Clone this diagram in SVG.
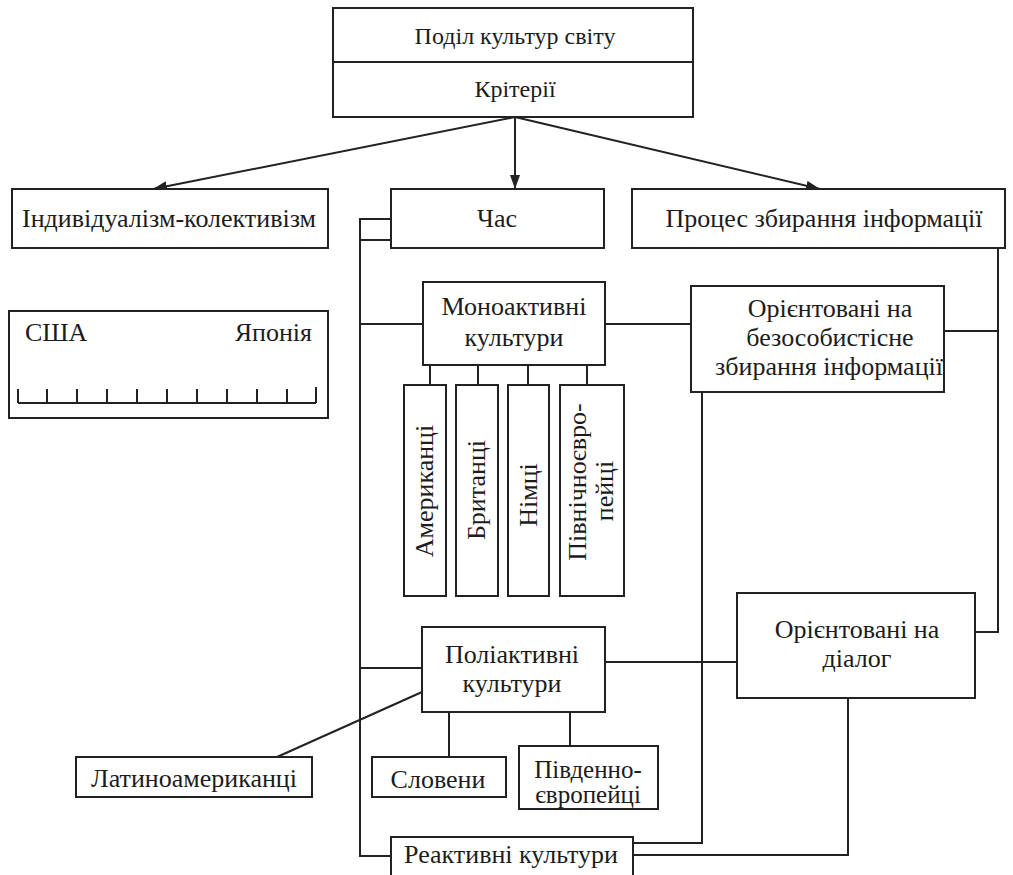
<svg xmlns="http://www.w3.org/2000/svg" width="1013" height="875" viewBox="0 0 1013 875">
  <style>
    .box { fill: #ffffff; stroke: #222222; stroke-width: 2; }
    .ln { fill: none; stroke: #222222; stroke-width: 2; }
    .arr { fill: none; stroke: #222222; stroke-width: 2; marker-end: url(#head); }
    text { font-family: "Liberation Serif", "Times New Roman", serif; font-size: 26px; fill: #1c1c1c; }
    .c { text-anchor: middle; }
    .sm { font-size: 24px; }
  </style>
  <defs>
    <marker id="head" viewBox="0 0 14 10" refX="14" refY="5" markerWidth="14" markerHeight="10" markerUnits="userSpaceOnUse" orient="auto">
      <path d="M0,0 L14,5 L0,10 Z" fill="#222222"/>
    </marker>
  </defs>
  <rect width="1013" height="875" fill="#ffffff"/>

  <!-- connectors -->
  <g id="connectors">
    <path class="arr" d="M515,117 L153,189"/>
    <path class="arr" d="M515,117 L515,189"/>
    <path class="arr" d="M515,117 L820,189"/>
    <!-- time bracket -->
    <path class="ln" d="M391,219 H360 V856 H391"/>
    <path class="ln" d="M391,240 H360"/>
    <path class="ln" d="M360,324 H423"/>
    <path class="ln" d="M360,668 H422"/>
    <!-- monoactive children -->
    <path class="ln" d="M430,365 V385 M478,365 V385 M528,365 V385 M587,365 V385"/>
    <path class="ln" d="M605,324 H691"/>
    <!-- information gathering -->
    <path class="ln" d="M998,248 V632 H975"/>
    <path class="ln" d="M944,331 H998"/>
    <path class="ln" d="M702,392 V843 H633"/>
    <path class="ln" d="M605,662 H737"/>
    <path class="ln" d="M848,698 V855 H633"/>
    <!-- polyactive children -->
    <path class="ln" d="M422,692 L277,757"/>
    <path class="ln" d="M449,712 V757"/>
    <path class="ln" d="M570,712 V746"/>
  </g>

  <g id="root">
    <rect class="box" x="333" y="8" width="360" height="109"/>
    <path class="ln" d="M333,62 H693"/>
    <text class="c sm" x="515" y="44">Поділ культур світу</text>
    <text class="c sm" x="515" y="97">Крітерії</text>
  </g>

  <g id="individualism">
    <rect class="box" x="12" y="189" width="316" height="59"/>
    <text class="c" x="169" y="227">Індивідуалізм-колективізм</text>
  </g>

  <g id="scale">
    <rect class="box" x="9" y="311" width="319" height="107"/>
    <text x="25" y="341">США</text>
    <text x="312" y="341" text-anchor="end">Японія</text>
    <path class="ln" d="M18,403 H316 M18,389 V403 M47,389 V403 M77,389 V403 M107,389 V403 M137,389 V403 M167,389 V403 M197,389 V403 M227,389 V403 M257,389 V403 M287,389 V403 M316,387 V403"/>
  </g>

  <g id="time">
    <rect class="box" x="391" y="189" width="213" height="59"/>
    <text class="c" x="497" y="227">Час</text>
  </g>

  <g id="info-process">
    <rect class="box" x="632" y="189" width="373" height="59"/>
    <text class="c" x="824" y="227">Процес збирання інформації</text>
  </g>

  <g id="monoactive">
    <rect class="box" x="423" y="282" width="182" height="83"/>
    <text class="c" x="514" y="315">Моноактивні</text>
    <text class="c" x="514" y="346">культури</text>
  </g>

  <g id="impersonal">
    <rect class="box" x="691" y="286" width="253" height="106"/>
    <text class="c" x="830" y="317">Орієнтовані на</text>
    <text class="c" x="830" y="346">безособистісне</text>
    <text class="c" x="829" y="375">збирання інформації</text>
  </g>

  <g id="americans">
    <rect class="box" x="404" y="385" width="42" height="211"/>
    <text class="c" x="433" y="491" transform="rotate(-90 433 491)">Американці</text>
  </g>

  <g id="british">
    <rect class="box" x="456" y="385" width="42" height="211"/>
    <text class="c" x="485" y="490" transform="rotate(-90 485 490)">Британці</text>
  </g>

  <g id="germans">
    <rect class="box" x="508" y="385" width="41" height="211"/>
    <text class="c" x="537" y="495" transform="rotate(-90 537 495)">Німці</text>
  </g>

  <g id="north-europeans">
    <rect class="box" x="560" y="385" width="64" height="211"/>
    <text class="c" x="586" y="482" transform="rotate(-90 586 482)">Північноєвро-</text>
    <text class="c" x="613" y="491" transform="rotate(-90 613 491)">пейці</text>
  </g>

  <g id="polyactive">
    <rect class="box" x="422" y="627" width="183" height="85"/>
    <text class="c" x="512" y="663">Поліактивні</text>
    <text class="c" x="512" y="692">культури</text>
  </g>

  <g id="dialogue">
    <rect class="box" x="737" y="593" width="238" height="105"/>
    <text class="c" x="857" y="638">Орієнтовані на</text>
    <text class="c" x="857" y="667">діалог</text>
  </g>

  <g id="latin-americans">
    <rect class="box" x="76" y="757" width="236" height="40"/>
    <text class="c" x="194" y="787">Латиноамериканці</text>
  </g>

  <g id="slovenes">
    <rect class="box" x="372" y="757" width="134" height="40"/>
    <text class="c" x="438" y="788">Словени</text>
  </g>

  <g id="south-europeans">
    <rect class="box" x="519" y="746" width="139" height="63"/>
    <text class="c" x="588" y="778" style="font-size:25px">Південно-</text>
    <text class="c" x="588" y="803" style="font-size:25px">європейці</text>
  </g>

  <g id="reactive">
    <rect class="box" x="391" y="837" width="242" height="50"/>
    <text class="c" x="511" y="863">Реактивні культури</text>
  </g>
</svg>
